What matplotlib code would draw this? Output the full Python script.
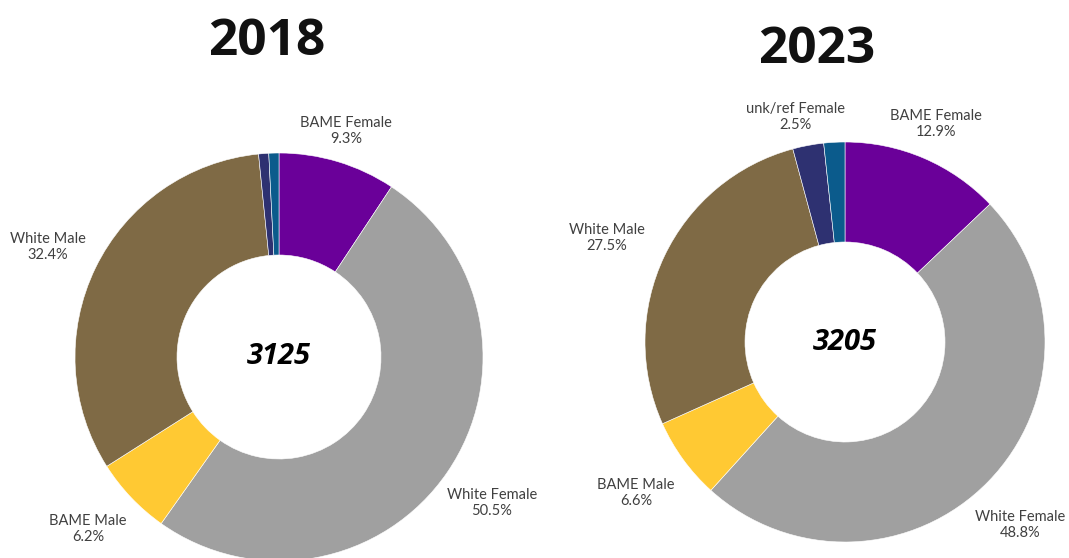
import matplotlib
matplotlib.use("Agg")
import matplotlib.pyplot as plt

# Staff composition by ethnicity and sex
categories = ["BAME Female", "White Female", "BAME Male", "White Male",
              "unk/ref Female", "unk/ref Male"]
values_2018 = [9.3, 50.5, 6.2, 32.4, 0.8, 0.8]
values_2023 = [12.9, 48.8, 6.6, 27.5, 2.5, 1.7]
totals = {"2018": 3125, "2023": 3205}
years = ["2018", "2023"]

colors = ["#6A0099", "#A0A0A0", "#FFC933", "#7F6A45", "#2E3171", "#0B5B8C"]

W, H = 1069, 558
fig = plt.figure(figsize=(W / 100, H / 100), dpi=100)
ax = fig.add_axes([0, 0, 1, 1])
ax.set_xlim(0, W)
ax.set_ylim(0, H)
ax.set_aspect("equal")
ax.axis("off")

label_font = ["Lato", "DejaVu Sans"]
label_color = "#404040"

layouts = {
    "2018": dict(center=(279, H - 357), radius=204, title=(267, H - 55),
                 labels={"BAME Female": (346, H - 131),
                         "White Female": (492, H - 503),
                         "BAME Male": (88, H - 529),
                         "White Male": (48, H - 247)}),
    "2023": dict(center=(845, H - 342), radius=200, title=(817, H - 63),
                 labels={"BAME Female": (936, H - 124),
                         "White Female": (1020, H - 525),
                         "BAME Male": (636, H - 493),
                         "White Male": (607, H - 238),
                         "unk/ref Female": (795, H - 117)}),
}

for year, vals in zip(years, [values_2018, values_2023]):
    lay = layouts[year]
    r = lay["radius"]
    ax.pie(vals, colors=colors, startangle=90, counterclock=False,
           center=lay["center"], radius=r, frame=True,
           wedgeprops=dict(width=r * 0.5, edgecolor="white", linewidth=0.4))
    cx, cy = lay["center"]
    ax.text(cx, cy, str(totals[year]), ha="center", va="center",
            fontsize=21, fontweight="bold", fontstyle="italic",
            family=["Open Sans", "DejaVu Sans"], color="black")
    tx, ty = lay["title"]
    ax.text(tx, ty, year, ha="center", va="baseline", fontsize=37,
            fontweight="bold", family=["Open Sans", "DejaVu Sans"],
            color="#111111")
    for cat, v in zip(categories, vals):
        if cat in lay["labels"]:
            lx, ly = lay["labels"][cat]
            ax.text(lx, ly, f"{cat}\n{v:.1f}%", ha="center", va="center",
                    fontsize=10.5, family=label_font, color=label_color,
                    linespacing=1.2)

ax.set_xlim(0, W)
ax.set_ylim(0, H)
ax.axis("off")
fig.savefig("out.png", dpi=100)
